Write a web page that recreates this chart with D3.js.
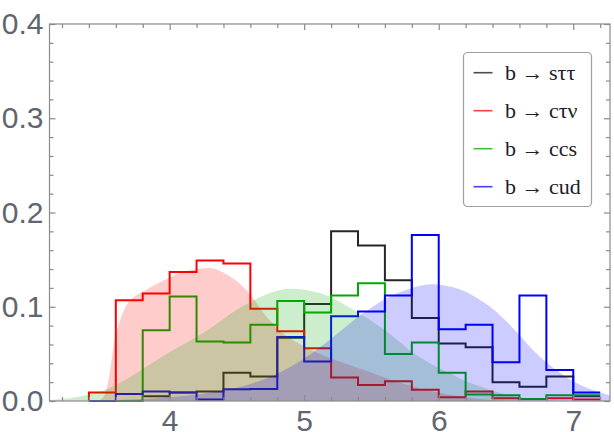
<!DOCTYPE html>
<html lang="en">
<head>
<meta charset="UTF-8">
<title>Decay histograms</title>
<script src="https://d3js.org/d3.v7.min.js"></script>
<style>
    body { margin: 0; padding: 0; background: #ffffff; }
    svg { display: block; }
    .tick text { font-family: 'Liberation Sans', Arial, sans-serif; font-size: 30px; fill: #5f6670; }
    .legend text { font-family: 'Liberation Serif', 'Times New Roman', serif; font-size: 22px; fill: #1c1c2a; }
</style>
</head>
<body>
<svg id="chart" width="614" height="432"></svg>
<script>
// histogram bins (left edges), width 0.2
const binEdges = [3.4, 3.6, 3.8, 4.0, 4.2, 4.4, 4.6, 4.8, 5.0, 5.2, 5.4, 5.6, 5.8, 6.0, 6.2, 6.4, 6.6, 6.8, 7.0, 7.2];

const histStt = [0, 0, 0.005, 0.009, 0.010, 0.030, 0.026, 0.067, 0.103, 0.180, 0.165, 0.128, 0.088, 0.061, 0.057, 0.020, 0.015, 0.026, 0.005];
const histCtn = [0.009, 0.107, 0.114, 0.137, 0.149, 0.146, 0.098, 0.074, 0.056, 0.025, 0.017, 0.021, 0.012, 0.004, 0.010, 0.003, 0.002, 0.003, 0.0015];
const histCcs = [0, 0, 0.075, 0.111, 0.063, 0.062, 0.081, 0.106, 0.094, 0.112, 0.125, 0.050, 0.062, 0.030, 0.007, 0.006, 0.002, 0.006, 0.006];
const histCud = [0, 0.0074, 0.010, 0.009, 0.0015, 0.0124, 0.0127, 0.068, 0.042, 0.090, 0.095, 0.112, 0.176, 0.076, 0.081, 0.041, 0.112, 0.033, 0.009];

// smooth shaded distributions, [x, y] samples
const curveCtn = [[3.45, 0], [3.50, 0.003], [3.53, 0.012], [3.56, 0.035], [3.58, 0.055], [3.60, 0.070], [3.63, 0.085],
    [3.66, 0.096], [3.70, 0.106], [3.75, 0.112], [3.80, 0.116], [3.90, 0.124], [4.00, 0.131], [4.10, 0.137],
    [4.20, 0.140], [4.30, 0.141], [4.40, 0.136], [4.50, 0.127], [4.60, 0.113], [4.70, 0.093], [4.80, 0.077],
    [4.90, 0.066], [5.00, 0.058], [5.10, 0.051], [5.20, 0.045], [5.30, 0.040], [5.40, 0.035], [5.50, 0.030],
    [5.60, 0.025], [5.70, 0.020], [5.80, 0.016], [5.90, 0.012], [6.00, 0.009], [6.10, 0.006], [6.20, 0.004],
    [6.30, 0.002], [6.40, 0.001], [6.50, 0]];
const curveCcs = [[3.107, 0.001], [3.2, 0.002], [3.3, 0.004], [3.4, 0.007], [3.5, 0.011], [3.6, 0.017], [3.7, 0.025],
    [3.8, 0.034], [3.9, 0.043], [4.0, 0.052], [4.1, 0.060], [4.2, 0.068], [4.3, 0.077], [4.4, 0.087], [4.5, 0.097],
    [4.6, 0.105], [4.7, 0.112], [4.8, 0.117], [4.9, 0.119], [5.0, 0.118], [5.1, 0.115], [5.2, 0.110], [5.3, 0.102],
    [5.4, 0.094], [5.5, 0.085], [5.6, 0.075], [5.7, 0.064], [5.8, 0.052], [5.9, 0.043], [6.0, 0.035], [6.1, 0.028],
    [6.2, 0.021], [6.3, 0.016], [6.4, 0.011], [6.5, 0.007], [6.6, 0.004], [6.7, 0.002], [6.8, 0.001], [6.9, 0]];
const curveCud = [[3.5, 0], [3.6, 0.001], [3.8, 0.002], [4.0, 0.004], [4.2, 0.007], [4.4, 0.011], [4.6, 0.018],
    [4.8, 0.029], [5.0, 0.045], [5.2, 0.066], [5.4, 0.089], [5.6, 0.108], [5.8, 0.120], [5.95, 0.124], [6.1, 0.121],
    [6.2, 0.116], [6.3, 0.108], [6.4, 0.098], [6.5, 0.085], [6.6, 0.070], [6.7, 0.054], [6.8, 0.041], [6.9, 0.030],
    [7.0, 0.021], [7.1, 0.014], [7.2, 0.009], [7.273, 0.006]];

const seriesLabels = ["b \u2192 s\u03C4\u03C4", "b \u2192 c\u03C4\u03BD", "b \u2192 ccs", "b \u2192 cud"];
const seriesColors = ["#000000", "#ff0000", "#00aa00", "#0000ff"];

const xTicksMajor = [4, 5, 6, 7];
const yTicksMajor = [0.0, 0.1, 0.2, 0.3, 0.4];
const yTickLabels = ["0.0", "0.1", "0.2", "0.3", "0.4"];

const svg = d3.select("#chart");

const x = d3.scaleLinear().domain([3.107, 7.273]).range([49.5, 610]);
const y = d3.scaleLinear().domain([0, 0.4]).range([401, 24]);

const xMinor = d3.range(3.2, 7.25, 0.2).map(v => +v.toFixed(1)).filter(v => !xTicksMajor.includes(v));
const yMinor = d3.range(0, 0.401, 0.02).map(v => +v.toFixed(2)).filter(v => !yTicksMajor.includes(v));

const frameColor = "#8a8a8a";

// histograms (drawn first, the shaded fills sit on top)
const hists = [histStt, histCtn, histCcs, histCud];
hists.forEach((vals, i) => {
    const pts = [[binEdges[0], 0]];
    vals.forEach((v, k) => {
        pts.push([binEdges[k], v]);
        pts.push([binEdges[k + 1], v]);
    });
    svg.append("path")
        .datum(pts)
        .attr("fill", "none")
        .attr("stroke", seriesColors[i])
        .attr("stroke-width", 2)
        .attr("stroke-opacity", i === 0 ? 0.85 : 1)
        .attr("d", d3.line().x(d => x(d[0])).y(d => y(d[1])));
});

// shaded distributions
const curves = [curveCtn, curveCcs, curveCud];
const fillColors = ["#ff0000", "#00aa00", "#0000ff"];
const area = d3.area()
    .curve(d3.curveMonotoneX)
    .x(d => x(d[0]))
    .y0(y(0))
    .y1(d => y(d[1]));
curves.forEach((c, i) => {
    svg.append("path")
        .datum(c)
        .attr("fill", fillColors[i])
        .attr("fill-opacity", 0.2)
        .attr("d", area);
});

// frame
svg.append("rect")
    .attr("x", 49.5).attr("y", 24)
    .attr("width", 610 - 49.5).attr("height", 401 - 24)
    .attr("fill", "none")
    .attr("stroke", frameColor)
    .attr("stroke-width", 1.2);

function styleAxis(g) {
    g.select(".domain").remove();
    g.selectAll(".tick line").attr("stroke", frameColor).attr("stroke-width", 1.2);
}

// bottom axis
svg.append("g")
    .attr("transform", "translate(0,401)")
    .call(d3.axisBottom(x).tickValues(xTicksMajor).tickFormat(d3.format("d")).tickSizeInner(-6).tickSizeOuter(0).tickPadding(9))
    .call(styleAxis);
svg.append("g")
    .attr("transform", "translate(0,401)")
    .call(d3.axisBottom(x).tickValues(xMinor).tickFormat("").tickSizeInner(-4).tickSizeOuter(0))
    .call(styleAxis);
// top axis
svg.append("g")
    .attr("transform", "translate(0,24)")
    .call(d3.axisTop(x).tickValues(xTicksMajor).tickFormat("").tickSizeInner(-6).tickSizeOuter(0))
    .call(styleAxis);
svg.append("g")
    .attr("transform", "translate(0,24)")
    .call(d3.axisTop(x).tickValues(xMinor).tickFormat("").tickSizeInner(-4).tickSizeOuter(0))
    .call(styleAxis);

// left axis
svg.append("g")
    .attr("transform", "translate(49.5,0)")
    .call(d3.axisLeft(y).tickValues(yTicksMajor).tickFormat((d, i) => yTickLabels[i]).tickSizeInner(-6).tickSizeOuter(0).tickPadding(6))
    .call(styleAxis);
svg.append("g")
    .attr("transform", "translate(49.5,0)")
    .call(d3.axisLeft(y).tickValues(yMinor).tickFormat("").tickSizeInner(-4).tickSizeOuter(0))
    .call(styleAxis);
// right axis
svg.append("g")
    .attr("transform", "translate(610,0)")
    .call(d3.axisRight(y).tickValues(yTicksMajor).tickFormat("").tickSizeInner(-6).tickSizeOuter(0))
    .call(styleAxis);
svg.append("g")
    .attr("transform", "translate(610,0)")
    .call(d3.axisRight(y).tickValues(yMinor).tickFormat("").tickSizeInner(-4).tickSizeOuter(0))
    .call(styleAxis);

// legend
const legend = svg.append("g").attr("class", "legend");
legend.append("rect")
    .attr("x", 463.5).attr("y", 52.5)
    .attr("width", 128).attr("height", 154)
    .attr("rx", 4)
    .attr("fill", "#ffffff")
    .attr("stroke", "#a0a0a0")
    .attr("stroke-width", 1.2);

seriesLabels.forEach((label, i) => {
    const cy = 72.7 + i * 38;
    legend.append("line")
        .attr("x1", 473.5).attr("x2", 492.5)
        .attr("y1", cy).attr("y2", cy)
        .attr("stroke", seriesColors[i])
        .attr("stroke-opacity", i === 0 ? 0.7 : 0.75)
        .attr("stroke-width", 1.6);
    legend.append("text")
        .attr("x", 505)
        .attr("y", cy + 6.8)
        .text(label);
});
</script>
</body>
</html>
